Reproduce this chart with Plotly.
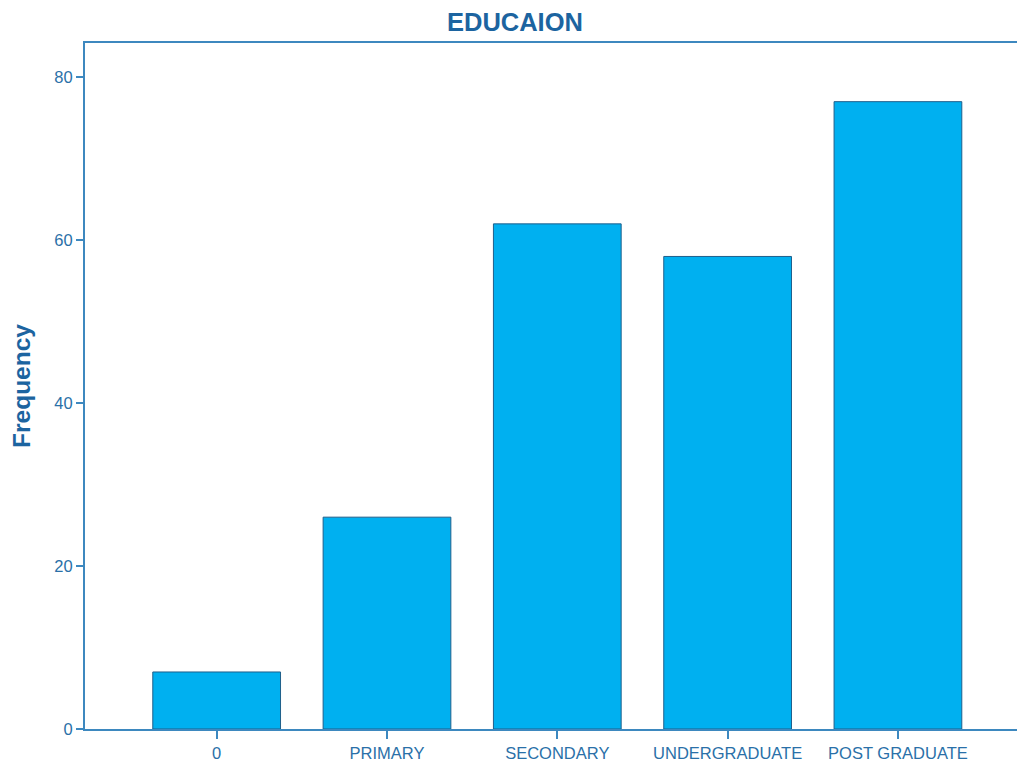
import plotly.graph_objects as go

categories = ["0", "PRIMARY", "SECONDARY", "UNDERGRADUATE", "POST GRADUATE"]
frequency = [7, 26, 62, 58, 77]
y_ticks = [0, 20, 40, 60, 80]

axis_col = "#3d88bf"
text_col = "#2a70a8"
title_col = "#1c64a0"
font_fam = "Liberation Sans, Arial, sans-serif"

fig = go.Figure(go.Bar(
    x=categories, y=frequency, width=0.75,
    marker=dict(color="#00b0f0", line=dict(color="#1f5f8b", width=1)),
))

# page body has an 8px margin, so the figure is sized to fit the 1025x764 window
fig.update_layout(
    width=1017, height=756,
    margin=dict(l=77, r=0, t=35, b=35),
    paper_bgcolor="white", plot_bgcolor="white",
    showlegend=False,
    font=dict(family=font_fam, color=text_col, size=16),
    title=dict(text="<b>EDUCAION</b>", x=0.4985, xref="container", xanchor="center",
               y=0.9815, yanchor="middle",
               font=dict(size=25.5, color=title_col, family=font_fam)),
)
fig.update_xaxes(
    range=[-0.773, 4.746], showgrid=False, zeroline=False,
    showline=True, linecolor=axis_col, linewidth=2, mirror=True,
    ticks="outside", ticklen=8, tickcolor=axis_col, tickwidth=2,
    tickfont=dict(size=16.5, color=text_col, family=font_fam),
)
fig.update_yaxes(
    range=[0, 84.2], tickvals=y_ticks, showgrid=False, zeroline=False,
    showline=True, linecolor=axis_col, linewidth=2,
    ticks="outside", ticklen=7, tickcolor=axis_col, tickwidth=2,
    tickfont=dict(size=16.5, color=text_col, family=font_fam),
    title=dict(text="<b>Frequency</b>", font=dict(size=24.5, color=title_col, family=font_fam),
               standoff=20),
)

fig.write_html("out.html")
